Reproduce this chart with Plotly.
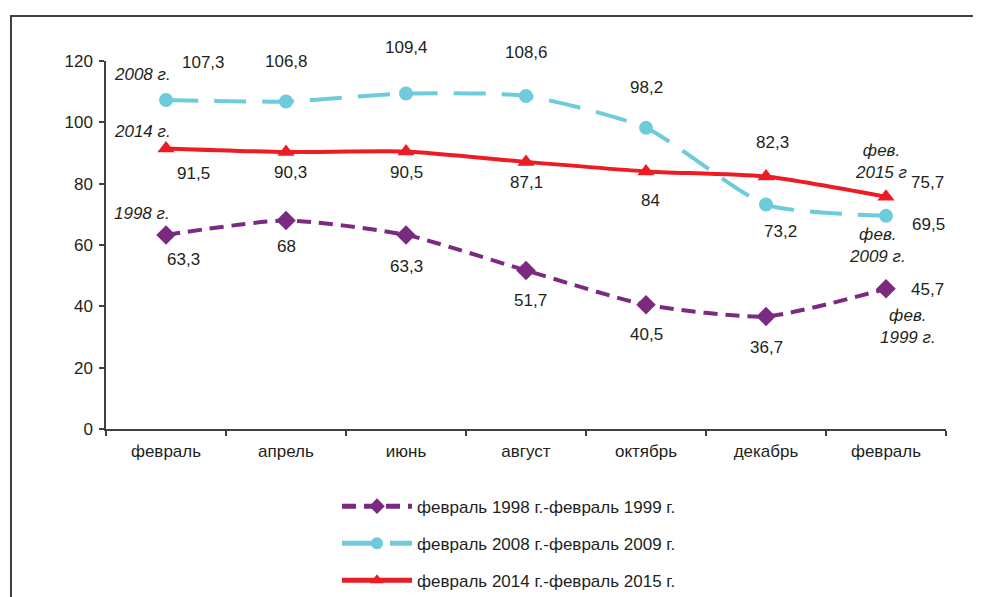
import plotly.graph_objects as go

# x positions are numeric because "февраль" appears twice on the axis
months = ["февраль", "апрель", "июнь", "август", "октябрь", "декабрь", "февраль"]
x_pos = list(range(len(months)))

y_1998 = [63.3, 68, 63.3, 51.7, 40.5, 36.7, 45.7]
y_2008 = [107.3, 106.8, 109.4, 108.6, 98.2, 73.2, 69.5]
y_2014 = [91.5, 90.3, 90.5, 87.1, 84, 82.3, 75.7]

names = [
    "февраль 1998 г.-февраль 1999 г.",
    "февраль 2008 г.-февраль 2009 г.",
    "февраль 2014 г.-февраль 2015 г.",
]
start_labels = ["1998 г.", "2008 г.", "2014 г."]
end_labels = ["фев.<br>1999 г.", "фев.<br>2009 г.", "фев.<br>2015 г"]

# pixel offsets of value labels (dx right, dy down)
label_dx = [
    [17, 0, 0, 4, 0, 0, 41],
    [37, 0, 0, 0, 0, 14, 42],
    [27, 4, 0, 0, 4, 6, 41],
]
label_dy = [
    [25, 26, 32, 30, 30, 31, 1],
    [-37, -40, -46, -43, -40, 27, 9],
    [25, 20, 21, 21, 29, -34, -14],
]
start_off = [(-24, -21), (-24, -25), (-24, -17)]
end_off = [(22, 38), (-9, 30), (-5, -35)]

COLORS = ["#7B2A82", "#6DCBDB", "#ED1C24"]
SYMBOLS = ["diamond", "circle", "triangle-up"]
SIZES = [15, 14, 15]
DASHES = ["14px,8px", "32px,16px", "solid"]
TEXT = "#231F20"
FONT = "Liberation Sans, Arial, sans-serif"
FS = 17

series = [y_1998, y_2008, y_2014]

fig = go.Figure()
for i, ys in enumerate(series):
    fig.add_trace(go.Scatter(
        x=x_pos, y=ys, mode="lines+markers", name=names[i],
        legendgroup=str(i),
        line=dict(color=COLORS[i], width=4, dash=DASHES[i], shape="spline", smoothing=0.6),
        marker=dict(symbol=SYMBOLS[i], size=SIZES[i], color=COLORS[i]),
    ))

annotations = []
for i, ys in enumerate(series):
    for j, v in enumerate(ys):
        annotations.append(dict(
            x=x_pos[j], y=v, xref="x", yref="y", showarrow=False,
            text=f"{v:g}".replace(".", ","),
            xshift=label_dx[i][j], yshift=-label_dy[i][j],
            font=dict(size=FS, color=TEXT, family=FONT),
        ))
    annotations.append(dict(
        x=x_pos[0], y=ys[0], xref="x", yref="y", showarrow=False,
        text=f"<i>{start_labels[i]}</i>",
        xshift=start_off[i][0], yshift=-start_off[i][1],
        font=dict(size=FS, color=TEXT, family=FONT),
    ))
    annotations.append(dict(
        x=x_pos[-1], y=ys[-1], xref="x", yref="y", showarrow=False,
        text=f"<i>{end_labels[i]}</i>",
        xshift=end_off[i][0], yshift=-end_off[i][1],
        font=dict(size=FS, color=TEXT, family=FONT),
    ))

# the page body adds an 8px margin, so the figure is 8px smaller and margins shifted
fig.update_layout(
    width=973, height=589,
    margin=dict(l=98, r=35, t=53, b=168),
    plot_bgcolor="white", paper_bgcolor="white",
    font=dict(family=FONT, size=FS, color=TEXT),
    showlegend=True,
    legend=dict(
        x=0.275, y=0.184, xref="paper", yref="container",
        xanchor="left", yanchor="top",
        orientation="v", tracegroupgap=12,
        font=dict(size=FS, color=TEXT, family=FONT),
        bgcolor="rgba(0,0,0,0)", itemwidth=70, itemsizing="constant",
    ),
    annotations=annotations,
    shapes=[dict(
        type="rect", xref="paper", yref="paper",
        x0=-0.1131, x1=1.2, y0=-0.6, y1=1.1223,
        line=dict(color="#404040", width=2), layer="below",
    )],
)
fig.update_xaxes(
    range=[-0.5, 6.5], tickvals=x_pos, ticktext=months,
    ticks="", showgrid=False, zeroline=False,
    showline=True, linecolor="#404040", linewidth=1.5,
    tickfont=dict(size=FS, color=TEXT), ticklabelstandoff=6,
    minor=dict(tickvals=[k - 0.5 for k in range(len(months) + 1)],
               ticks="outside", ticklen=5, tickcolor="#404040", tickwidth=1.5),
)
fig.update_yaxes(
    range=[0, 120], dtick=20, showgrid=False, zeroline=False,
    showline=True, linecolor="#404040", linewidth=1.5,
    ticks="outside", ticklen=5, tickcolor="#404040", tickwidth=1.5,
    tickfont=dict(size=FS, color=TEXT), ticklabelstandoff=3,
)

fig.write_html("out.html")
